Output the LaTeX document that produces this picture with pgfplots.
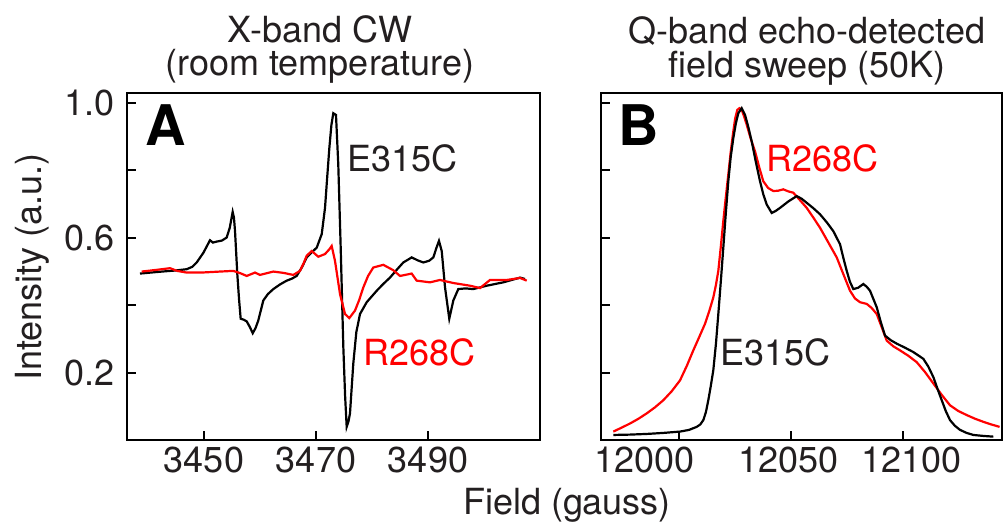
\documentclass[border=0pt]{standalone}
\usepackage{fontspec}
\setmainfont{TeX Gyre Heros}
\usepackage{pgfplots}
\pgfplotsset{compat=1.18}
\definecolor{tg}{HTML}{231F20}
\definecolor{myred}{HTML}{FF0000}
\newcommand\f{\fontsize{18}{21}\selectfont}
\pgfplotsset{panel/.style={scale only axis, anchor=south west, height=173.5pt,
  ymin=0, ymax=1.03, ytick={0.2,0.4,0.6,0.8,1.0},
  tick align=inside, xtick pos=left, ytick pos=left, major tick length=4.5pt,
  axis line style={line width=1pt},
  every tick/.style={line width=1pt, black},
  tick label style={font=\f, text=tg},
  scaled x ticks=false, scaled y ticks=false,
  /pgf/number format/assume math mode=true,
  yticklabel style={xshift=-2.5pt}}}
\begin{document}
\begin{tikzpicture}
\useasboundingbox (0,0) rectangle (501.5pt,-262.5pt);
% Panel A
\begin{axis}[panel, at={(63.5pt,-220pt)}, width=206.5pt,
  xmin=3436.25, xmax=3510, xtick={3450,3470,3490}, xticklabels={3450,3470,3490},
  yticklabels={0.2,,0.6,,1.0}]
\addplot[black, line width=1.1pt] coordinates {
(3438.57,0.494) (3440.5,0.497) (3442.5,0.500) (3444.8,0.503) (3446.91,0.507) (3447.9,0.514) (3448.70,0.527)
(3449.9,0.556) (3451.07,0.593) (3451.6,0.586) (3452.27,0.589) (3453.2,0.592)
(3454.05,0.601) (3454.6,0.630) (3455.12,0.677) (3455.35,0.660) (3455.54,0.620) (3455.95,0.492) (3456.25,0.420) (3456.55,0.360) (3457.1,0.357) (3457.63,0.352)
(3458.2,0.335) (3458.70,0.317) (3459.20,0.332) (3459.70,0.355) (3460.59,0.414) (3461.4,0.433) (3462.38,0.448) (3463.6,0.462) (3464.77,0.473) (3465.7,0.479) (3466.55,0.487)
(3467.5,0.513) (3468.34,0.542) (3469.3,0.558) (3470.13,0.571) (3471.02,0.611) (3471.61,0.689) (3472.0,0.780) (3472.38,0.866) (3472.75,0.935) (3473.09,0.970)
(3473.57,0.965) (3473.98,0.817) (3474.41,0.571) (3474.88,0.276) (3475.2,0.130) (3475.48,0.039) (3475.8,0.055) (3476.07,0.079)
(3476.66,0.227) (3477.2,0.320) (3477.86,0.374) (3479.05,0.409) (3480.84,0.443) (3482.0,0.463) (3483.21,0.482) (3484.4,0.505) (3485.59,0.527)
(3487.09,0.542) (3488.2,0.533) (3489.16,0.527) (3490.2,0.532) (3490.95,0.542) (3491.5,0.570) (3491.96,0.591) (3492.45,0.561) (3493.04,0.453)
(3493.80,0.360) (3494.52,0.414) (3495.41,0.448) (3496.7,0.450) (3498.09,0.448) (3500.48,0.458) (3503.45,0.468)
(3506.43,0.482) (3507.32,0.478)};
\addplot[myred, line width=1.1pt] coordinates {
(3438.88,0.500) (3441.5,0.505) (3443.93,0.510) (3445.2,0.502) (3446.91,0.497) (3449.5,0.497) (3452.86,0.500) (3455.23,0.502)
(3456.5,0.495) (3457.63,0.487) (3459.11,0.497) (3460.00,0.490) (3462.38,0.500) (3464.2,0.496) (3465.95,0.490) (3467.14,0.502)
(3467.8,0.525) (3468.34,0.547) (3469.23,0.561) (3470.41,0.544) (3471.61,0.552) (3472.38,0.566) (3472.80,0.576)
(3473.39,0.532) (3474.29,0.433) (3475.18,0.374) (3475.95,0.362) (3476.96,0.384) (3477.7,0.415) (3478.45,0.453) (3479.3,0.487)
(3480.23,0.512) (3482.02,0.520) (3483.80,0.504) (3485.00,0.487) (3487.09,0.494) (3487.98,0.473)
(3490.36,0.468) (3492.14,0.475) (3494.52,0.466) (3497.50,0.458) (3499.29,0.451) (3501.07,0.475)
(3504.05,0.475) (3506.43,0.481) (3507.63,0.473)};
\end{axis}
% Panel B
\begin{axis}[panel, at={(300.5pt,-220pt)}, width=200.5pt,
  xmin=11965.2, xmax=12144.2, xtick={12000,12050,12100}, xticklabels={},
  extra x ticks={11984.8,12049.1,12104.0}, extra x tick labels={12000,12050,12100},
  extra x tick style={major tick length=0pt, tick style={draw=none}},
  yticklabels={}]
\addplot[myred, line width=1.1pt] coordinates {
(11970.69,0.025) (11974.5,0.037) (11978.15,0.049) (11981.9,0.063) (11985.60,0.079) (11989.3,0.097) (11993.01,0.118) (11996.8,0.145) (12000.47,0.177) (12003.5,0.220) (12006.40,0.266)
(12009.0,0.305) (12011.63,0.345) (12013.5,0.382) (12015.33,0.423) (12016.5,0.460) (12017.57,0.502) (12018.7,0.575) (12019.80,0.650) (12020.9,0.720) (12022.03,0.788) (12023.1,0.855) (12024.26,0.916)
(12025.1,0.955) (12026.05,0.980) (12027.0,0.985) (12028.01,0.980) (12029.1,0.960) (12030.24,0.936) (12032.0,0.895) (12033.95,0.857) (12035.8,0.810) (12037.65,0.768) (12039.8,0.748) (12042.12,0.739)
(12044.3,0.740) (12046.58,0.744) (12048.8,0.738) (12051.05,0.734) (12054.0,0.712) (12057.03,0.689) (12060.0,0.660) (12062.97,0.630) (12066.7,0.586) (12070.42,0.542) (12073.4,0.492) (12076.36,0.443)
(12078.6,0.420) (12080.83,0.409) (12083.82,0.404) (12086.0,0.392) (12088.28,0.374) (12090.5,0.335) (12092.74,0.295) (12095.7,0.278) (12098.68,0.266) (12102.4,0.250) (12106.14,0.231)
(12109.8,0.202) (12113.54,0.168) (12117.3,0.134) (12121.00,0.103) (12124.7,0.086) (12128.46,0.074) (12132.2,0.063) (12135.87,0.054) (12139.5,0.046) (12143.13,0.039)};
\addplot[black, line width=1.1pt] coordinates {
(11970.69,0.015) (11978.0,0.016) (11985.60,0.018) (11993.0,0.021) (12000.47,0.025) (12004.5,0.030) (12007.92,0.039) (12009.5,0.046) (12010.87,0.059) (12012.0,0.082) (12013.10,0.118)
(12014.2,0.160) (12015.33,0.207) (12016.5,0.285) (12017.57,0.374) (12018.7,0.472) (12019.80,0.571) (12020.9,0.672) (12022.03,0.768) (12023.1,0.840) (12024.26,0.896) (12025.4,0.940) (12026.50,0.970)
(12028.01,0.985) (12029.49,0.965) (12031.0,0.928) (12032.48,0.886) (12034.3,0.826) (12036.18,0.768) (12037.7,0.728) (12039.17,0.699) (12041.41,0.674) (12043.2,0.680)
(12045.11,0.689) (12048.8,0.708) (12052.57,0.724) (12054.8,0.716) (12057.03,0.704) (12060.0,0.688) (12062.97,0.670) (12066.0,0.646) (12068.90,0.620) (12071.90,0.581)
(12073.4,0.540) (12074.89,0.502) (12076.3,0.470) (12077.83,0.448) (12080.0,0.452) (12082.30,0.463) (12083.8,0.455) (12085.29,0.443) (12088.28,0.394) (12090.1,0.350) (12091.98,0.310)
(12094.6,0.296) (12097.21,0.286) (12100.9,0.274) (12104.62,0.261) (12109.08,0.241) (12111.3,0.218) (12113.54,0.187) (12115.4,0.152) (12117.30,0.118) (12119.1,0.086) (12121.00,0.059)
(12123.2,0.042) (12125.47,0.030) (12128.4,0.021) (12131.41,0.015) (12136.0,0.012) (12140.34,0.010)};
\end{axis}
% Texts
\node[anchor=base, font=\f, text=tg] at (160pt,-21pt) {X-band CW};
\node[anchor=base, font=\f, text=tg] at (160pt,-37.5pt) {(room temperature)};
\node[anchor=base, font=\f, text=tg] at (403.5pt,-21.5pt) {Q-band echo-detected};
\node[anchor=base, font=\f, text=tg] at (403.5pt,-38.5pt) {field sweep (50K)};
\node[anchor=base, rotate=90, font=\f, text=tg] at (20.5pt,-133.5pt) {Intensity (a.u.)};
\node[anchor=base, font=\f, text=tg] at (283.5pt,-257pt) {Field (gauss)};
\node[anchor=base west, inner sep=0pt, font=\fontsize{28}{30}\selectfont\bfseries] at (72.5pt,-72.5pt) {A};
\node[anchor=base west, inner sep=0pt, font=\fontsize{28}{30}\selectfont\bfseries] at (309pt,-72.5pt) {B};
\node[anchor=base west, inner sep=0pt, font=\f, text=tg] at (173.6pt,-85.5pt) {E315C};
\node[anchor=base west, inner sep=0pt, font=\f, text=myred] at (181.6pt,-182.5pt) {R268C};
\node[anchor=base west, inner sep=0pt, font=\f, text=myred] at (383pt,-85.5pt) {R268C};
\node[anchor=base west, inner sep=0pt, font=\f, text=tg] at (360pt,-182.5pt) {E315C};
\end{tikzpicture}
\end{document}
